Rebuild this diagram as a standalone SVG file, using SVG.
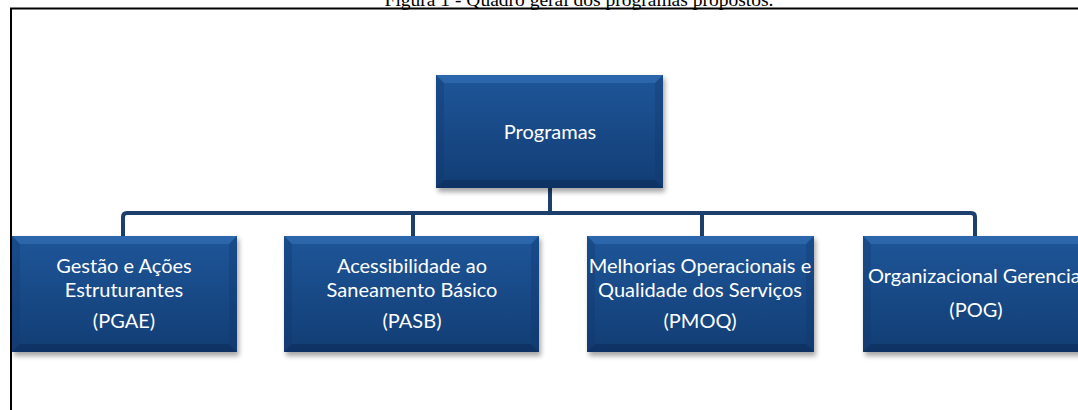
<svg xmlns="http://www.w3.org/2000/svg" width="1078" height="410" viewBox="0 0 1078 410">
<style>
.t{font-family:Lato,"Open Sans",sans-serif;font-size:20px;fill:#ffffff;text-anchor:middle}
.ts{font-family:Lato,"Open Sans",sans-serif;font-size:20px;fill:#ffffff}
.title{font-family:"Liberation Serif",serif;font-size:19.5px;fill:#000;text-anchor:middle}
.conn{fill:none;stroke:#1c3f6e;stroke-width:4;stroke-linejoin:round}
.body{fill:url(#g)}
.top{fill:#3a78c0;opacity:0.5}
.bot{fill:#0b2a55;opacity:0.55}
.side{fill:#0f356a;opacity:0.3}
.sh{fill:#000;opacity:0.35;filter:url(#blur)}
</style>
<defs>
<linearGradient id="g" x1="0" y1="0" x2="0" y2="1">
<stop offset="0" stop-color="#1e5699"/>
<stop offset="1" stop-color="#123d74"/>
</linearGradient>
<filter id="blur" x="-10%" y="-10%" width="120%" height="130%"><feGaussianBlur stdDeviation="2.5"/></filter>
</defs>
<text class="title" x="579" y="6">Figura 1 - Quadro geral dos programas propostos.</text>
<path d="M11 410 V8.5 H1078" fill="none" stroke="#000" stroke-width="2"/>
<g id="connectors">
<path class="conn" d="M550 188 V213"/>
<path class="conn" d="M123 236 V217 Q123 213 127 213 H971 Q975 213 975 217 V236"/>
<path class="conn" d="M413 213 V236"/>
<path class="conn" d="M702 213 V236"/>
</g>
<g id="programas">
<rect class="sh" x="438" y="78" width="227" height="114"/>
<rect class="body" x="436" y="75" width="227" height="113"/>
<polygon class="top" points="436,75 663,75 655,83 444,83"/>
<polygon class="side" points="436,75 444,83 444,180 436,188"/>
<polygon class="side" points="663,75 655,83 655,180 663,188"/>
<polygon class="bot" points="436,188 663,188 655,180 444,180"/>
<text class="t" x="550" y="139">Programas</text>
</g>
<g id="pgae">
<rect class="sh" x="14" y="239" width="225" height="117"/>
<rect class="body" x="12" y="236" width="225" height="116"/>
<polygon class="top" points="12,236 237,236 229,244 20,244"/>
<polygon class="side" points="12,236 20,244 20,344 12,352"/>
<polygon class="side" points="237,236 229,244 229,344 237,352"/>
<polygon class="bot" points="12,352 237,352 229,344 20,344"/>
<text class="t" x="124" y="273">Gestão e Ações</text>
<text class="t" x="124" y="297">Estruturantes</text>
<text class="t" x="124" y="328">(PGAE)</text>
</g>
<g id="pasb">
<rect class="sh" x="286" y="239" width="255" height="117"/>
<rect class="body" x="284" y="236" width="255" height="116"/>
<polygon class="top" points="284,236 539,236 531,244 292,244"/>
<polygon class="side" points="284,236 292,244 292,344 284,352"/>
<polygon class="side" points="539,236 531,244 531,344 539,352"/>
<polygon class="bot" points="284,352 539,352 531,344 292,344"/>
<text class="t" x="412" y="273">Acessibilidade ao</text>
<text class="t" x="412" y="297">Saneamento Básico</text>
<text class="t" x="412" y="328">(PASB)</text>
</g>
<g id="pmoq">
<rect class="sh" x="589" y="239" width="227" height="117"/>
<rect class="body" x="587" y="236" width="227" height="116"/>
<polygon class="top" points="587,236 814,236 806,244 595,244"/>
<polygon class="side" points="587,236 595,244 595,344 587,352"/>
<polygon class="side" points="814,236 806,244 806,344 814,352"/>
<polygon class="bot" points="587,352 814,352 806,344 595,344"/>
<text class="t" x="700" y="273">Melhorias Operacionais e</text>
<text class="t" x="700" y="297">Qualidade dos Serviços</text>
<text class="t" x="700" y="328">(PMOQ)</text>
</g>
<g id="pog">
<rect class="sh" x="865" y="239" width="225" height="117"/>
<rect class="body" x="863" y="236" width="225" height="116"/>
<polygon class="top" points="863,236 1088,236 1080,244 871,244"/>
<polygon class="side" points="863,236 871,244 871,344 863,352"/>
<polygon class="bot" points="863,352 1088,352 1080,344 871,344"/>
<text class="ts" x="868" y="283">Organizacional Gerencia</text>
<text class="t" x="976" y="317">(POG)</text>
</g>
</svg>
